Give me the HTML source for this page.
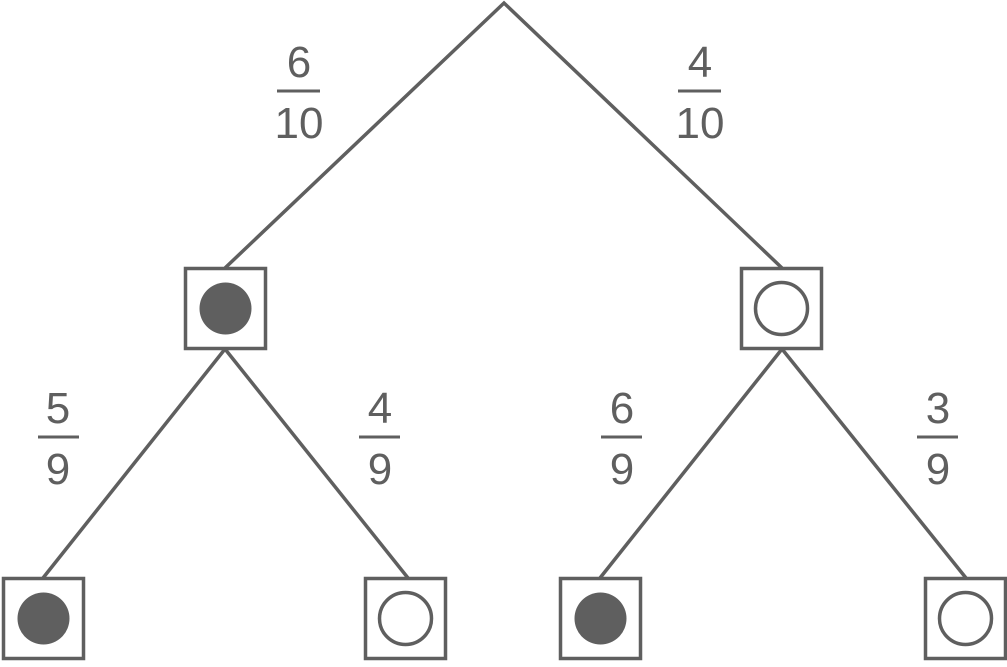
<!DOCTYPE html>
<html><head><style>html,body{margin:0;padding:0;background:#fff}</style></head>
<body>
<svg width="1007" height="662" viewBox="0 0 1007 662" xmlns="http://www.w3.org/2000/svg">
<g stroke="#5f5f5f" stroke-width="3.5" fill="none">
<polyline points="225,268 504,3 782,268"/>
<line x1="225" y1="349" x2="43" y2="578"/>
<line x1="225" y1="349" x2="408" y2="578"/>
<line x1="782" y1="349" x2="600" y2="578"/>
<line x1="782" y1="349" x2="966" y2="578"/>
<rect x="185.5" y="268.5" width="80" height="80" fill="#fff"/>
<rect x="741.5" y="268.5" width="80" height="80" fill="#fff"/>
<rect x="3.5" y="578.5" width="80" height="80" fill="#fff"/>
<rect x="365.5" y="578.5" width="80" height="80" fill="#fff"/>
<rect x="560.5" y="578.5" width="80" height="80" fill="#fff"/>
<rect x="925.5" y="578.5" width="80" height="80" fill="#fff"/>
<circle cx="225.5" cy="308.5" r="26" fill="#5f5f5f" stroke="none"/>
<circle cx="781.5" cy="308.5" r="26"/>
<circle cx="43.5" cy="618.5" r="26" fill="#5f5f5f" stroke="none"/>
<circle cx="405.5" cy="618.5" r="26"/>
<circle cx="600.5" cy="618.5" r="26" fill="#5f5f5f" stroke="none"/>
<circle cx="965.5" cy="618.5" r="26"/>
<g stroke-width="3">
<line x1="277" y1="91" x2="320" y2="91"/>
<line x1="678" y1="91" x2="721" y2="91"/>
<line x1="38" y1="437" x2="79" y2="437"/>
<line x1="359" y1="437" x2="400" y2="437"/>
<line x1="601" y1="437" x2="642" y2="437"/>
<line x1="917" y1="437" x2="958" y2="437"/>
</g>
</g>
<g fill="#5f5f5f" font-family="Liberation Sans, sans-serif" font-size="44" text-anchor="middle">
<text x="299" y="77">6</text><text x="299" y="138">10</text>
<text x="700" y="77">4</text><text x="700" y="138">10</text>
<text x="58" y="423">5</text><text x="58" y="484">9</text>
<text x="380" y="423">4</text><text x="380" y="484">9</text>
<text x="622" y="423">6</text><text x="622" y="484">9</text>
<text x="938" y="423">3</text><text x="938" y="484">9</text>
</g>
</svg>
</body></html>
